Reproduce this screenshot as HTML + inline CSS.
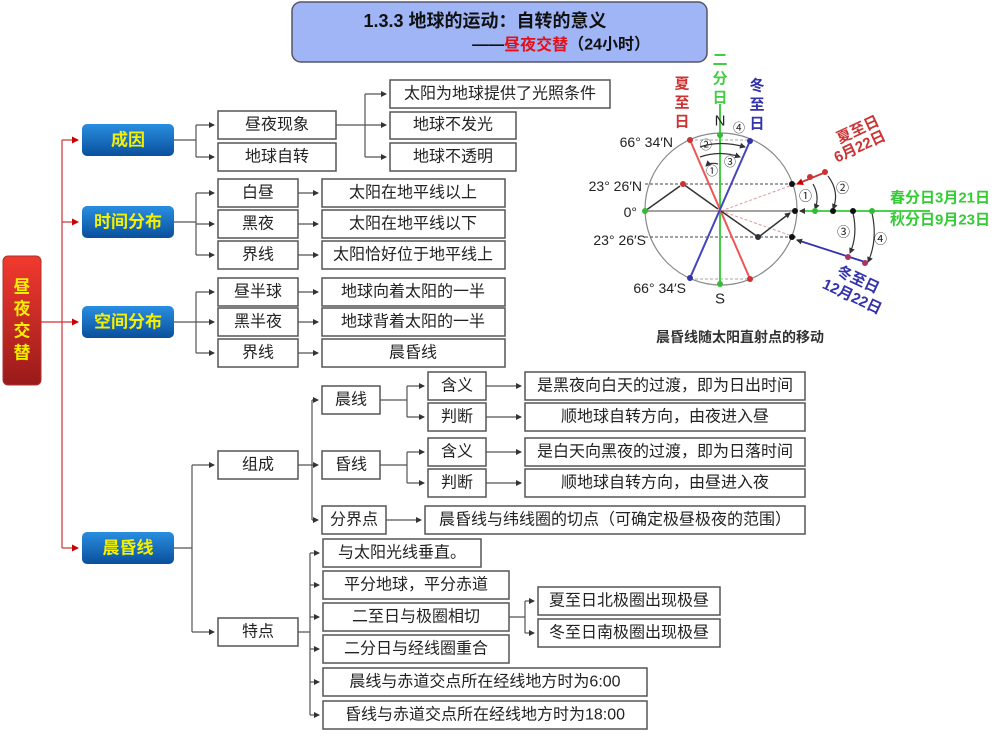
<!DOCTYPE html>
<html><head><meta charset="utf-8"><style>
html,body{margin:0;padding:0;background:#fff;width:1000px;height:750px;overflow:hidden}
svg{display:block}
text{font-family:"Liberation Sans","Noto Sans CJK SC",sans-serif}
.b{fill:#fff;stroke:#555;stroke-width:1.5}
.t{font-size:16px;fill:#222;text-anchor:middle;dominant-baseline:central}
.c{fill:none;stroke:#555;stroke-width:1.2}
.bt{font-size:17px;font-weight:bold;fill:#f4f000;text-anchor:middle;dominant-baseline:central}
</style></head><body>
<svg width="1000" height="750" viewBox="0 0 1000 750" xmlns="http://www.w3.org/2000/svg">
<defs>
<marker id="a" markerWidth="6" markerHeight="6" refX="5" refY="3" orient="auto" markerUnits="userSpaceOnUse"><path d="M0,0L6,3L0,6z" fill="#333"/></marker>
<marker id="r" markerWidth="7" markerHeight="7" refX="6" refY="3.5" orient="auto" markerUnits="userSpaceOnUse"><path d="M0,0L7,3.5L0,7z" fill="#c00"/></marker>
<linearGradient id="bl" x1="0" y1="0" x2="0" y2="1"><stop offset="0" stop-color="#2a8ee0"/><stop offset="1" stop-color="#0a4f9c"/></linearGradient>
<linearGradient id="rd" x1="0" y1="0" x2="0" y2="1"><stop offset="0" stop-color="#f23a2e"/><stop offset="1" stop-color="#9a1a1a"/></linearGradient>
</defs>

<rect x="292" y="2" width="415" height="60" rx="9" fill="#9fb5f6" stroke="#556" stroke-width="1.5"/>
<text x="485" y="21" font-size="18" font-weight="bold" fill="#111" text-anchor="middle" dominant-baseline="central">1.3.3  地球的运动：自转的意义</text>
<text x="650" y="45" font-size="16" font-weight="bold" fill="#111" text-anchor="end" dominant-baseline="central">——<tspan fill="#e3101a">昼夜交替</tspan>（24小时）</text>

<rect x="3" y="256" width="38" height="129" rx="5" fill="url(#rd)" stroke="#a33"/>
<text x="22" y="287" class="bt" font-size="18">昼</text>
<text x="22" y="309" class="bt" font-size="18">夜</text>
<text x="22" y="331" class="bt" font-size="18">交</text>
<text x="22" y="353" class="bt" font-size="18">替</text>
<g stroke="#c33" stroke-width="1.2" fill="none">
<path d="M62,140V548"/><path d="M41,322H78" marker-end="url(#r)"/>
<path d="M62,140H78" marker-end="url(#r)"/><path d="M62,222H78" marker-end="url(#r)"/><path d="M62,548H78" marker-end="url(#r)"/>
</g>
<g>
<rect x="82" y="124" width="92" height="32" rx="5" fill="url(#bl)"/><text x="128" y="140" class="bt">成因</text>
<rect x="82" y="206" width="92" height="32" rx="5" fill="url(#bl)"/><text x="128" y="222" class="bt">时间分布</text>
<rect x="82" y="306" width="92" height="32" rx="5" fill="url(#bl)"/><text x="128" y="322" class="bt">空间分布</text>
<rect x="82" y="532" width="92" height="32" rx="5" fill="url(#bl)"/><text x="128" y="548" class="bt">晨昏线</text>
</g>

<g class="c">
<path d="M174,140H196M196,125V157"/>
<path d="M196,125H214" marker-end="url(#a)"/><path d="M196,157H214" marker-end="url(#a)"/>
<path d="M336,125H365M365,94V157"/><path d="M365,94H386" marker-end="url(#a)"/><path d="M365,125H386" marker-end="url(#a)"/><path d="M365,157H386" marker-end="url(#a)"/>
<path d="M174,222H196M196,193V255"/><path d="M196,193H214" marker-end="url(#a)"/><path d="M196,224H214" marker-end="url(#a)"/><path d="M196,255H214" marker-end="url(#a)"/>
<path d="M298,193H318" marker-end="url(#a)"/><path d="M298,224H318" marker-end="url(#a)"/><path d="M298,255H318" marker-end="url(#a)"/>
<path d="M174,322H196M196,292V353"/><path d="M196,292H214" marker-end="url(#a)"/><path d="M196,322H214" marker-end="url(#a)"/><path d="M196,353H214" marker-end="url(#a)"/>
<path d="M298,292H318" marker-end="url(#a)"/><path d="M298,322H318" marker-end="url(#a)"/><path d="M298,353H318" marker-end="url(#a)"/>
<path d="M174,548H192M192,465V632"/><path d="M192,465H214" marker-end="url(#a)"/><path d="M192,632H214" marker-end="url(#a)"/>
<path d="M298,465H312M312,400V520"/><path d="M312,400H318" marker-end="url(#a)"/><path d="M312,465H318" marker-end="url(#a)"/><path d="M312,520H318" marker-end="url(#a)"/>
<path d="M380,400H407M407,386V417"/><path d="M407,386H424" marker-end="url(#a)"/><path d="M407,417H424" marker-end="url(#a)"/>
<path d="M380,465H407M407,452V483"/><path d="M407,452H424" marker-end="url(#a)"/><path d="M407,483H424" marker-end="url(#a)"/>
<path d="M486,386H521" marker-end="url(#a)"/><path d="M486,417H521" marker-end="url(#a)"/><path d="M486,452H521" marker-end="url(#a)"/><path d="M486,483H521" marker-end="url(#a)"/>
<path d="M386,520H421" marker-end="url(#a)"/>
<path d="M298,632H310M310,553V715"/>
<path d="M310,553H319" marker-end="url(#a)"/><path d="M310,585H319" marker-end="url(#a)"/><path d="M310,617H319" marker-end="url(#a)"/><path d="M310,649H319" marker-end="url(#a)"/><path d="M310,682H319" marker-end="url(#a)"/><path d="M310,715H319" marker-end="url(#a)"/>
<path d="M509,617H525M525,601V633"/><path d="M525,601H534" marker-end="url(#a)"/><path d="M525,633H534" marker-end="url(#a)"/>
</g>

<g>
<rect class="b" x="218" y="111" width="118" height="28"/><text class="t" x="277" y="125">昼夜现象</text>
<rect class="b" x="218" y="143" width="118" height="28"/><text class="t" x="277" y="157">地球自转</text>
<rect class="b" x="390" y="80" width="220" height="28"/><text class="t" x="500" y="94">太阳为地球提供了光照条件</text>
<rect class="b" x="390" y="112" width="126" height="27"/><text class="t" x="453" y="125">地球不发光</text>
<rect class="b" x="390" y="143" width="126" height="28"/><text class="t" x="453" y="157">地球不透明</text>

<rect class="b" x="218" y="179" width="80" height="28"/><text class="t" x="258" y="193">白昼</text>
<rect class="b" x="218" y="210" width="80" height="28"/><text class="t" x="258" y="224">黑夜</text>
<rect class="b" x="218" y="241" width="80" height="28"/><text class="t" x="258" y="255">界线</text>
<rect class="b" x="322" y="179" width="183" height="28"/><text class="t" x="413" y="193">太阳在地平线以上</text>
<rect class="b" x="322" y="210" width="183" height="28"/><text class="t" x="413" y="224">太阳在地平线以下</text>
<rect class="b" x="322" y="241" width="183" height="28"/><text class="t" x="413" y="255">太阳恰好位于地平线上</text>

<rect class="b" x="218" y="278" width="80" height="28"/><text class="t" x="258" y="292">昼半球</text>
<rect class="b" x="218" y="308" width="80" height="28"/><text class="t" x="258" y="322">黑半夜</text>
<rect class="b" x="218" y="339" width="80" height="28"/><text class="t" x="258" y="353">界线</text>
<rect class="b" x="322" y="278" width="183" height="28"/><text class="t" x="413" y="292">地球向着太阳的一半</text>
<rect class="b" x="322" y="308" width="183" height="28"/><text class="t" x="413" y="322">地球背着太阳的一半</text>
<rect class="b" x="322" y="339" width="183" height="28"/><text class="t" x="413" y="353">晨昏线</text>

<rect class="b" x="218" y="451" width="80" height="28"/><text class="t" x="258" y="465">组成</text>
<rect class="b" x="218" y="618" width="80" height="28"/><text class="t" x="258" y="632">特点</text>
<rect class="b" x="322" y="386" width="58" height="28"/><text class="t" x="351" y="400">晨线</text>
<rect class="b" x="322" y="451" width="58" height="28"/><text class="t" x="351" y="465">昏线</text>
<rect class="b" x="322" y="506" width="64" height="28"/><text class="t" x="354" y="520">分界点</text>
<rect class="b" x="428" y="372" width="58" height="28"/><text class="t" x="457" y="386">含义</text>
<rect class="b" x="428" y="403" width="58" height="28"/><text class="t" x="457" y="417">判断</text>
<rect class="b" x="428" y="438" width="58" height="28"/><text class="t" x="457" y="452">含义</text>
<rect class="b" x="428" y="469" width="58" height="28"/><text class="t" x="457" y="483">判断</text>
<rect class="b" x="525" y="372" width="280" height="28"/><text class="t" x="665" y="386">是黑夜向白天的过渡，即为日出时间</text>
<rect class="b" x="525" y="403" width="280" height="28"/><text class="t" x="665" y="417">顺地球自转方向，由夜进入昼</text>
<rect class="b" x="525" y="438" width="280" height="28"/><text class="t" x="665" y="452">是白天向黑夜的过渡，即为日落时间</text>
<rect class="b" x="525" y="469" width="280" height="28"/><text class="t" x="665" y="483">顺地球自转方向，由昼进入夜</text>
<rect class="b" x="425" y="506" width="380" height="28"/><text class="t" x="615" y="520">晨昏线与纬线圈的切点（可确定极昼极夜的范围）</text>

<rect class="b" x="323" y="539" width="158" height="28"/><text class="t" x="402" y="553">与太阳光线垂直。</text>
<rect class="b" x="323" y="571" width="186" height="28"/><text class="t" x="416" y="585">平分地球，平分赤道</text>
<rect class="b" x="323" y="603" width="186" height="28"/><text class="t" x="416" y="617">二至日与极圈相切</text>
<rect class="b" x="323" y="635" width="186" height="28"/><text class="t" x="416" y="649">二分日与经线圈重合</text>
<rect class="b" x="323" y="668" width="324" height="28"/><text class="t" x="485" y="682">晨线与赤道交点所在经线地方时为6:00</text>
<rect class="b" x="323" y="701" width="324" height="28"/><text class="t" x="485" y="715">昏线与赤道交点所在经线地方时为18:00</text>
<rect class="b" x="538" y="587" width="182" height="28"/><text class="t" x="629" y="601">夏至日北极圈出现极昼</text>
<rect class="b" x="538" y="619" width="182" height="28"/><text class="t" x="629" y="633">冬至日南极圈出现极昼</text>
</g>

<g>
<circle cx="721" cy="209" r="76" fill="none" stroke="#888" stroke-width="1.2"/>
<path d="M645,184H796M645,237H796" stroke="#444" stroke-dasharray="3,2" stroke-width="1"/>
<path d="M690,140H750M690,279H750" stroke="#888" stroke-dasharray="3,2" stroke-width="0.8"/>
<path d="M645,211H796" stroke="#444" stroke-width="1"/>
<path d="M721,211L795,184M721,211L795,237" stroke="#d99" stroke-dasharray="3,2" stroke-width="1"/>
<path d="M720,55V285" stroke="#4c4" stroke-width="2"/>
<path d="M690,140L750,279" stroke="#e55" stroke-width="2"/>
<path d="M750,141L690,278" stroke="#44b" stroke-width="2"/>
<path d="M645,211L680,186M683,184L718,209M721,211L758,237M760,236L790,213" stroke="#333" stroke-width="1.5" fill="none" marker-end="url(#a)"/>
<g stroke="#333" stroke-width="1.2" fill="none">
<path d="M700,147Q720,140 745,147" marker-end="url(#a)"/>
<path d="M700,157Q720,150 740,157" marker-end="url(#a)"/>
<path d="M718,164Q710,162 706,166" marker-end="url(#a)"/>
<path d="M813,184Q820,196 815,209" marker-end="url(#a)"/>
<path d="M828,176Q840,192 833,209" marker-end="url(#a)"/>
<path d="M853,213Q858,235 850,253" marker-end="url(#a)"/>
<path d="M872,213Q878,240 868,262" marker-end="url(#a)"/>
</g>
<path d="M826,172L797,184" stroke="#c33" stroke-width="1.8" marker-end="url(#r)"/>
<path d="M930,211L800,211" stroke="#3c3" stroke-width="1.8" marker-end="url(#a)"/>
<path d="M865,262L797,240" stroke="#33a" stroke-width="1.8" marker-end="url(#a)"/>
<g>
<circle cx="690" cy="140" r="3" fill="#c33"/><circle cx="750" cy="141" r="3" fill="#33a"/><circle cx="720" cy="135" r="3" fill="#3b3"/>
<circle cx="690" cy="278" r="3" fill="#33a"/><circle cx="750" cy="279" r="3" fill="#c33"/><circle cx="720" cy="284" r="3" fill="#3b3"/>
<circle cx="645" cy="211" r="3" fill="#3b3"/><circle cx="683" cy="184" r="3" fill="#c33"/><circle cx="758" cy="237" r="3" fill="#333"/>
<circle cx="792" cy="184" r="3" fill="#111"/><circle cx="795" cy="211" r="3" fill="#111"/><circle cx="792" cy="237" r="3" fill="#111"/>
<circle cx="810" cy="177" r="3" fill="#c33"/><circle cx="825" cy="172" r="3" fill="#c33"/>
<circle cx="815" cy="211" r="3" fill="#3b3"/><circle cx="833" cy="211" r="3" fill="#111"/><circle cx="853" cy="211" r="3" fill="#111"/><circle cx="872" cy="211" r="3" fill="#3b3"/>
<circle cx="848" cy="257" r="3" fill="#a36"/><circle cx="865" cy="263" r="3" fill="#a36"/>
</g>
<g font-size="14" fill="#222" dominant-baseline="central">
<text x="720" y="121" text-anchor="middle" font-size="15">N</text>
<text x="720" y="299" text-anchor="middle" font-size="15">S</text>
<text x="673" y="142" text-anchor="end">66° 34′N</text>
<text x="642" y="186" text-anchor="end">23° 26′N</text>
<text x="637" y="212" text-anchor="end">0°</text>
<text x="646" y="240" text-anchor="end">23° 26′S</text>
<text x="686" y="288" text-anchor="end">66° 34′S</text>
<text x="733" y="128" font-size="12">④</text>
<text x="700" y="145" font-size="12">②</text>
<text x="724" y="162" font-size="12">③</text>
<text x="706" y="171" font-size="12">①</text>
<text x="799" y="196" font-size="13">①</text>
<text x="836" y="188" font-size="13">②</text>
<text x="837" y="232" font-size="13">③</text>
<text x="874" y="239" font-size="13">④</text>
</g>
<rect x="712" y="54" width="16" height="50" fill="#fff"/>
<g font-size="15" font-weight="bold" text-anchor="middle" dominant-baseline="central">
<text x="682" y="84" fill="#c33">夏</text><text x="682" y="103" fill="#c33">至</text><text x="682" y="122" fill="#c33">日</text>
<text x="720" y="60" fill="#4c4">二</text><text x="720" y="79" fill="#4c4">分</text><text x="720" y="98" fill="#4c4">日</text>
<text x="757" y="86" fill="#33a">冬</text><text x="757" y="105" fill="#33a">至</text><text x="757" y="124" fill="#33a">日</text>
<text x="0" y="0" fill="#c33" transform="translate(858,130) rotate(-25)">夏至日</text>
<text x="0" y="0" fill="#c33" transform="translate(860,147) rotate(-25)">6月22日</text>
<text x="940" y="198" fill="#3c3">春分日3月21日</text>
<text x="940" y="220" fill="#3c3">秋分日9月23日</text>
<text x="0" y="0" fill="#33a" transform="translate(858,280) rotate(25)">冬至日</text>
<text x="0" y="0" fill="#33a" transform="translate(852,297) rotate(25)">12月22日</text>
</g>
<text x="740" y="337" font-size="14" font-weight="bold" fill="#333" text-anchor="middle" dominant-baseline="central">晨昏线随太阳直射点的移动</text>
</g>
</svg>
</body></html>
